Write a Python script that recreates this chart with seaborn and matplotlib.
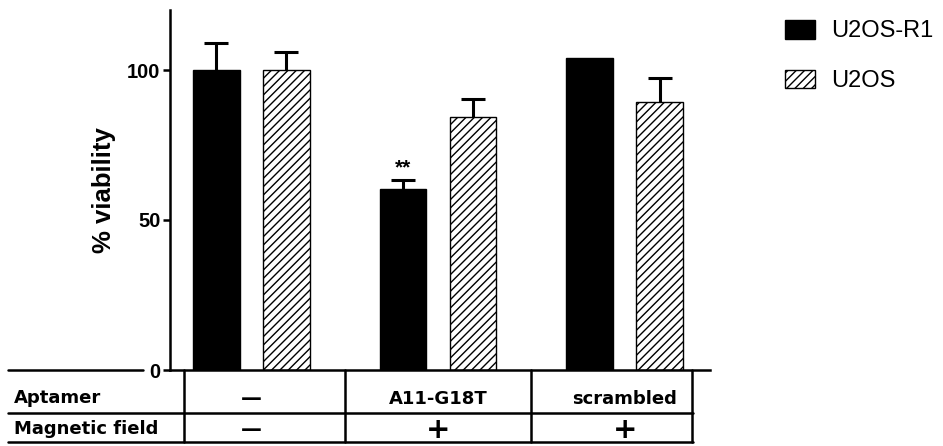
import matplotlib
matplotlib.use("Agg")
import matplotlib.pyplot as plt
import matplotlib.transforms as mtransforms
from matplotlib.lines import Line2D
import seaborn as sns
import pandas as pd
import numpy as np

# ---- data ----
aptamer = ["\u2014", "A11-G18T", "scrambled"]
magnetic = ["\u2014", "+", "+"]
cells = ["U2OS-R1", "U2OS"]
r1_mean = [100, 60.5, 104]
r1_err = [9, 3, 0]
u2_mean = [100, 84.5, 89.5]
u2_err = [6, 6, 8]
yticks = [0, 50, 100]
signif = ["", "**", ""]

df = pd.DataFrame({
    "aptamer": aptamer * 2,
    "cell": [cells[0]] * 3 + [cells[1]] * 3,
    "viability": r1_mean + u2_mean,
    "err": r1_err + u2_err,
})

sns.set_theme(style="ticks")
plt.rcParams["font.family"] = ["Liberation Sans", "DejaVu Sans"]
plt.rcParams["hatch.linewidth"] = 1.0
for k in ["text.color", "axes.labelcolor", "xtick.color", "ytick.color",
          "axes.edgecolor"]:
    plt.rcParams[k] = "black"

W, H = 943, 446
fig = plt.figure(figsize=(W / 100, H / 100), dpi=100)
ax = fig.add_axes([170 / W, 1 - 370 / H, 540 / W, 360 / H])

sns.barplot(data=df, x="aptamer", y="viability", hue="cell",
            order=aptamer, hue_order=cells,
            palette=["black", "white"], width=0.75, gap=0.33,
            errorbar=None, edgecolor="black", linewidth=1.0,
            saturation=1, legend=False, ax=ax, zorder=2)

# hatch second series
for p in ax.containers[1]:
    p.set_hatch("////")
    p.set_edgecolor("black")

# error bars (only the upper half shows above the bars)
errs = [r1_err, u2_err]
for cont, e in zip(ax.containers, errs):
    xs = np.array([p.get_x() + p.get_width() / 2 for p in cont])
    ys = np.array([p.get_height() for p in cont])
    e = np.array(e, dtype=float)
    m = e > 0
    ax.errorbar(xs[m], ys[m], yerr=e[m], fmt="none",
                ecolor="black", elinewidth=2.2, capsize=8.3, capthick=2.2,
                zorder=1)

# significance stars
for p, s, e in zip(ax.containers[0], signif, r1_err):
    if s:
        ax.text(p.get_x() + p.get_width() / 2, p.get_height() + e + 4, s,
                ha="center", va="center", fontsize=15, fontweight="bold")

ax.set_xlim(-0.436, 2.457)
ax.set_ylim(0, 120)
ax.set_yticks(yticks)
ax.set_yticklabels([str(t) for t in yticks], fontsize=14.5, fontweight="bold")
ax.set_xticks([])
ax.set_xlabel("")
ax.set_ylabel("% viability", fontsize=18.5, fontweight="bold")
ax.yaxis.set_label_coords(-0.10, 0.5)
ax.tick_params(axis="y", direction="out", length=5, width=1.8, color="black",
               pad=2)
for s in ["top", "right"]:
    ax.spines[s].set_visible(False)
for s in ["left", "bottom"]:
    ax.spines[s].set_linewidth(1.8)
    ax.spines[s].set_color("black")

# legend
h1 = plt.Rectangle((0, 0), 1, 1, facecolor="black", edgecolor="black")
h2 = plt.Rectangle((0, 0), 1, 1, facecolor="white", edgecolor="black",
                   hatch="////", linewidth=1.0)
fig.legend([h1, h2], cells, loc="upper left",
           bbox_to_anchor=(785 / W, 1 - 20 / H), bbox_transform=fig.transFigure,
           frameon=False, fontsize=17, handlelength=1.25, handleheight=0.83,
           handletextpad=0.7, labelspacing=1.15, borderpad=0, borderaxespad=0)

# ---- table under the axis ----
def fy(px):
    return 1 - px / H

def fx(px):
    return px / W

blend = mtransforms.blended_transform_factory(ax.transData, fig.transFigure)
lw = 1.8
# horizontal lines
fig.add_artist(Line2D([fx(8), fx(143)], [fy(369.5), fy(369.5)], color="black", lw=lw))
for ypx in (413, 442):
    fig.add_artist(Line2D([fx(8), fx(693)], [fy(ypx), fy(ypx)], color="black", lw=lw))
# vertical separators (category boundaries)
for xd in (-0.36, 0.5, 1.5, 2.36):
    fig.add_artist(Line2D([xd, xd], [fy(369.5), fy(442)], color="black", lw=lw,
                          transform=blend))

tfont = dict(family="DejaVu Sans", fontweight="bold", fontsize=13)
fig.text(fx(14), fy(398), "Aptamer", ha="left", va="center", **tfont)
fig.text(fx(14), fy(429), "Magnetic field", ha="left", va="center", **tfont)

def cell_text(i, label, ypx):
    if label == "\u2014":
        ax.text(i, fy(ypx), label, transform=blend, ha="center",
                va="center", family="DejaVu Sans", fontweight="bold",
                fontsize=15)
    elif label == "+":
        ax.text(i, fy(ypx), label, transform=blend, ha="center",
                va="center", family="DejaVu Sans", fontweight="bold",
                fontsize=21)
    else:
        ax.text(i, fy(ypx), label, transform=blend, ha="center", va="center",
                **tfont)

for i, lab in enumerate(aptamer):
    cell_text(i, lab, 399)
for i, lab in enumerate(magnetic):
    cell_text(i, lab, 430)

fig.savefig("out.png", dpi=100)
